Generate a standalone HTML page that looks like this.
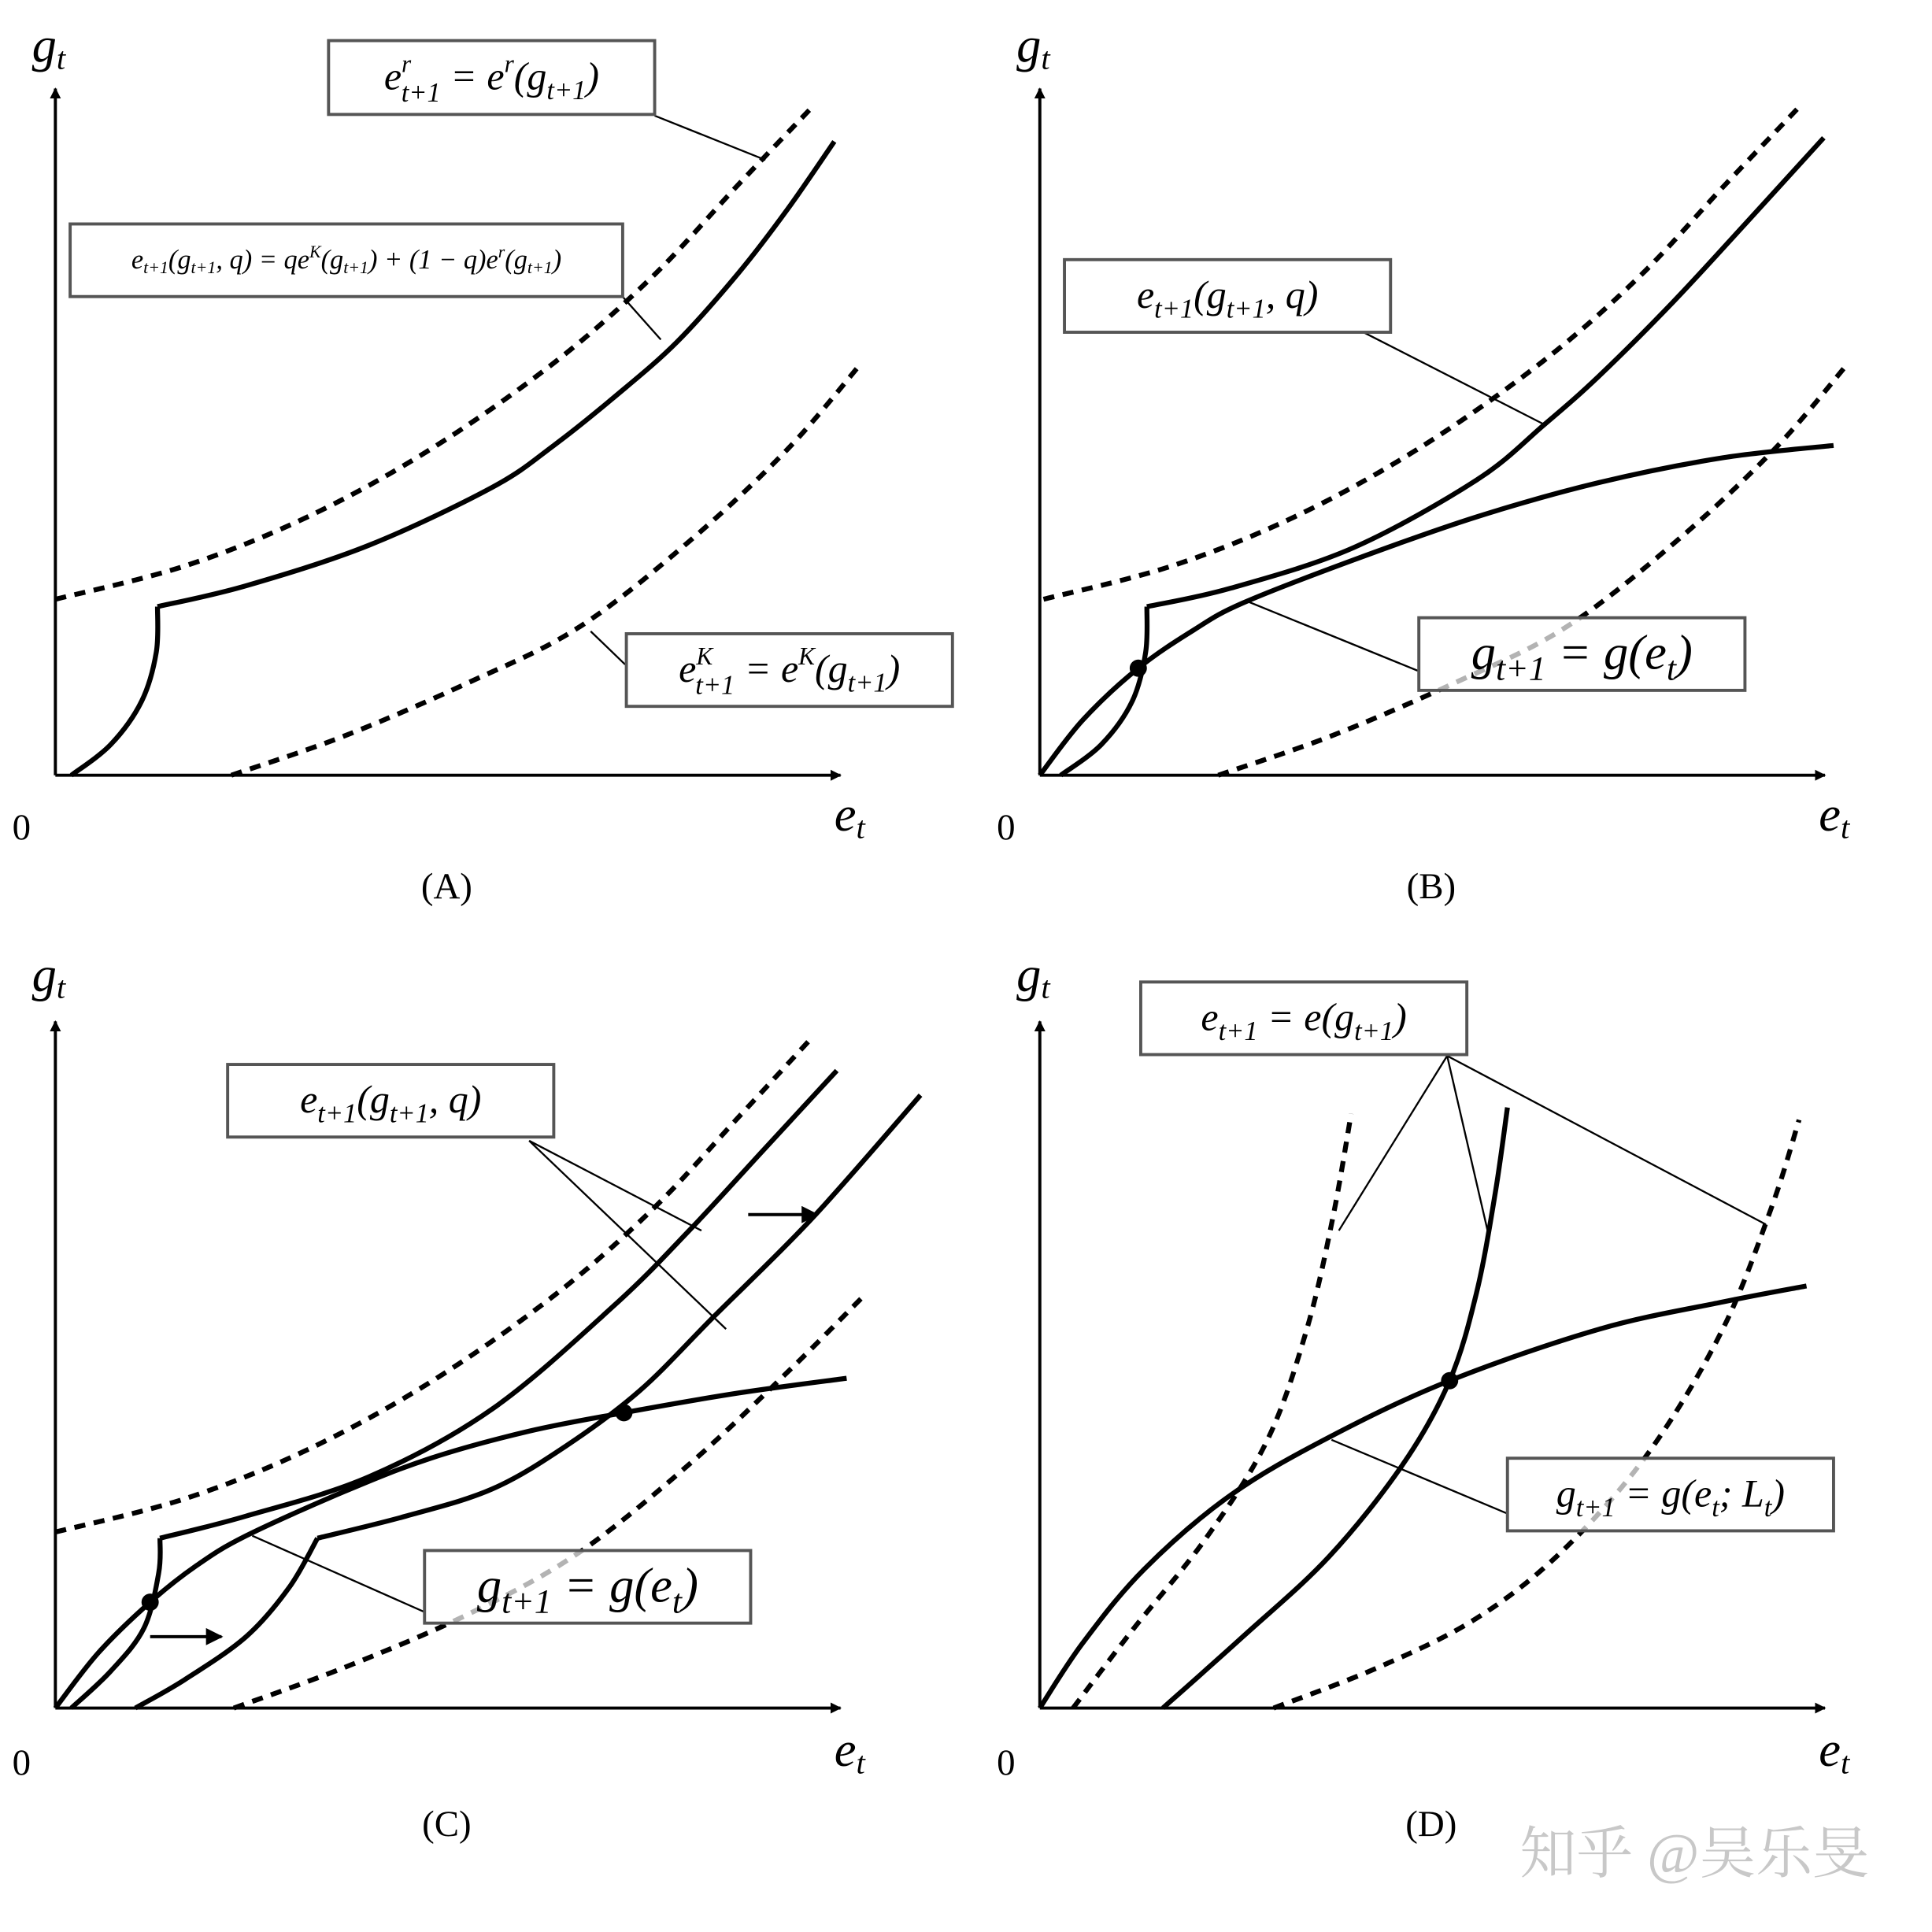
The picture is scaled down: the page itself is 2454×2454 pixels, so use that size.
<!DOCTYPE html>
<html><head><meta charset="utf-8"><style>
html,body{margin:0;padding:0;background:#fff;}
svg{display:block;}
text{font-family:"Liberation Serif","Noto Serif CJK SC",serif;}
.m{font-style:italic;}
</style></head><body>
<svg id="fig" width="2454" height="2454" viewBox="0 0 1570 1570" xmlns="http://www.w3.org/2000/svg">
<defs>
<marker id="ah" viewBox="0 0 10 10" refX="9" refY="5" markerWidth="9" markerHeight="9" markerUnits="userSpaceOnUse" orient="auto"><path d="M0,0 L10,5 L0,10 z" fill="#000"/></marker>
<marker id="ah2" viewBox="0 0 10 10" refX="9" refY="5" markerWidth="14" markerHeight="14" markerUnits="userSpaceOnUse" orient="auto"><path d="M0,0 L10,5 L0,10 z" fill="#000"/></marker>
</defs>
<g id="layer"></g>
<g id="labels">
 <text class="m" x="26" y="50" font-size="40">g<tspan font-size="26" dy="6">t</tspan></text>
 <text class="m" x="678" y="675" font-size="40">e<tspan font-size="26" dy="6">t</tspan></text>
 <text x="10" y="682" font-size="30">0</text>
 <text x="363" y="730" font-size="30" text-anchor="middle">(A)</text>
 <text class="m" x="826" y="50" font-size="40">g<tspan font-size="26" dy="6">t</tspan></text>
 <text class="m" x="1478" y="675" font-size="40">e<tspan font-size="26" dy="6">t</tspan></text>
 <text x="810" y="682" font-size="30">0</text>
 <text x="1163" y="730" font-size="30" text-anchor="middle">(B)</text>
 <text class="m" x="26" y="805" font-size="40">g<tspan font-size="26" dy="6">t</tspan></text>
 <text class="m" x="678" y="1435" font-size="40">e<tspan font-size="26" dy="6">t</tspan></text>
 <text x="10" y="1442" font-size="30">0</text>
 <text x="363" y="1492" font-size="30" text-anchor="middle">(C)</text>
 <text class="m" x="826" y="805" font-size="40">g<tspan font-size="26" dy="6">t</tspan></text>
 <text class="m" x="1478" y="1435" font-size="40">e<tspan font-size="26" dy="6">t</tspan></text>
 <text x="810" y="1442" font-size="30">0</text>
 <text x="1163" y="1492" font-size="30" text-anchor="middle">(D)</text>
 <text x="1235" y="1522" font-size="46" fill="#c8c8c8" font-family="Noto Sans CJK SC, sans-serif">知乎 @吴乐旻</text>
</g>
</svg>
<script>
// ---- data (in axis units: x right of origin, y above origin) ----
const panelOrigins = [[45,630],[845,630],[45,1388],[845,1388]];
// Panel A
const aErUpper = [[0,143],[105,170],[205,210],[305,265],[405,335],[485,405],[555,480],[615,543]];
const aQBranch1 = [[13,0],[45,25],[70,60],[82,100],[83,137]];
const aQBranch2 = [[83,137],[155,154],[255,187],[355,234],[405,268],[455,308],[505,352],[555,408],[595,460],[633,515]];
const aEkLower = [[143,0],[235,32],[335,75],[425,120],[515,190],[595,265],[655,335]];
// Panel B
const bErUpper = [[3,143],[107,170],[207,210],[307,265],[407,335],[487,405],[557,480],[617,543]];
const bQBranch1 = [[17,0],[50,25],[75,60],[86,100],[87,137]];
const bQBranch2 = [[87,137],[155,152],[255,185],[355,240],[410,285],[455,325],[515,385],[575,450],[637,518]];
const bG = [[0,0],[35,45],[80,87],[125,118],[165,140],[255,175],[355,210],[455,238],[555,258],[645,268]];
const bEkLower = [[145,0],[237,32],[337,75],[427,120],[517,190],[597,265],[657,335]];
// Panel C
const cErUpper = [[0,143],[105,170],[205,210],[305,265],[405,335],[485,405],[555,480],[615,545]];
const cQ1Branch1 = [[13,0],[45,30],[72,65],[84,110],[85,138]];
const cQ1Branch2 = [[85,138],[155,156],[255,188],[355,243],[455,328],[515,388],[575,453],[635,518]];
const cQ2Branch1 = [[65,0],[105,23],[155,58],[190,98],[213,138]];
const cQ2Branch2 = [[213,138],[285,156],[355,178],[415,213],[475,258],[535,318],[615,398],[703,498]];
const cG = [[0,0],[35,45],[77,86],[115,116],[155,140],[235,176],[305,203],[385,225],[462,240],[555,256],[643,268]];
const cEkLower = [[145,0],[235,33],[335,76],[425,126],[515,198],[595,273],[655,333]];
const cDots = [[77,86],[462,240]];
// Panel D
const dEr = [[27,0],[75,63],[135,138],[185,218],[217,308],[238,398],[253,483]];
const dMid = [[100,0],[165,58],[235,123],[295,198],[333,266],[355,338],[370,418],[380,488]];
const dG = [[0,0],[35,53],[85,113],[155,173],[235,220],[333,266],[455,308],[555,330],[623,343]];
const dEk = [[190,0],[275,33],[355,73],[425,128],[495,208],[555,308],[595,408],[617,478]];
const dDots = [[333,266]];

const NS = "http://www.w3.org/2000/svg";
const layer = document.getElementById('layer');
function sx(p,x){return panelOrigins[p][0]+x;}
function sy(p,y){return panelOrigins[p][1]-y;}
function pathD(p,pts){
  const P = pts.map(q=>[sx(p,q[0]),sy(p,q[1])]);
  let d = "M"+P[0][0]+","+P[0][1];
  for(let i=0;i<P.length-1;i++){
    const p0=P[i-1]||P[i], p1=P[i], p2=P[i+1], p3=P[i+2]||P[i+1];
    const c1=[p1[0]+(p2[0]-p0[0])/6, p1[1]+(p2[1]-p0[1])/6];
    const c2=[p2[0]-(p3[0]-p1[0])/6, p2[1]-(p3[1]-p1[1])/6];
    d+=" C"+c1[0]+","+c1[1]+" "+c2[0]+","+c2[1]+" "+p2[0]+","+p2[1];
  }
  return d;
}
function curve(p,pts,name,dashed){
  const e=document.createElementNS(NS,'path');
  e.setAttribute('d',pathD(p,pts));
  e.setAttribute('fill','none');
  e.setAttribute('stroke','#000');
  e.setAttribute('stroke-width','4');
  if(dashed) e.setAttribute('stroke-dasharray','9 7');
  
  
  layer.appendChild(e);
}
function line(x1,y1,x2,y2,name,w,marker){
  const e=document.createElementNS(NS,'line');
  e.setAttribute('x1',x1);e.setAttribute('y1',y1);e.setAttribute('x2',x2);e.setAttribute('y2',y2);
  e.setAttribute('stroke','#000');e.setAttribute('stroke-width',w||1.5);
  if(marker) e.setAttribute('marker-end','url(#'+marker+')');
  
  
  layer.appendChild(e);
}
function dot(p,pt,name){
  const e=document.createElementNS(NS,'circle');
  e.setAttribute('cx',sx(p,pt[0]));e.setAttribute('cy',sy(p,pt[1]));e.setAttribute('r',7);
  e.setAttribute('fill','#000');
  
  
  layer.appendChild(e);
}
function box(x,y,w,h,name,html,fs){
  const g=document.createElementNS(NS,'g');
  
  
  const r=document.createElementNS(NS,'rect');
  r.setAttribute('x',x);r.setAttribute('y',y);r.setAttribute('width',w);r.setAttribute('height',h);
  r.setAttribute('fill','rgba(255,255,255,0.7)');r.setAttribute('stroke','#555');r.setAttribute('stroke-width','2.5');
  g.appendChild(r);
  const t=document.createElementNS(NS,'text');
  t.setAttribute('x',x+w/2);t.setAttribute('y',y+h/2+fs*0.3);
  t.setAttribute('text-anchor','middle');t.setAttribute('font-size',fs);t.setAttribute('class','m');
  t.innerHTML=html;
  g.appendChild(t);
  layer.appendChild(g);
}
panelOrigins.forEach((o,i)=>{
  line(o[0],o[1],o[0],72+(i>1?758:0),'y-axis-'+i,2.5,'ah');
  line(o[0],o[1],o[0]+638,o[1],'x-axis-'+i,2.5,'ah');
});
// Panel A
curve(0,aErUpper,'a-er-curve',true);
curve(0,aQBranch1,'a-q-curve-lower',false);
curve(0,aQBranch2,'a-q-curve-upper',false);
curve(0,aEkLower,'a-ek-curve',true);
line(532,94,622,130,'a-er-leader');
line(505,240,537,276,'a-q-leader');
line(480,513,508,540,'a-ek-leader');
// Panel B
curve(1,bErUpper,'b-er-curve',true);
curve(1,bEkLower,'b-ek-curve',true);
curve(1,bQBranch1,'b-q-curve-lower',false);
curve(1,bQBranch2,'b-q-curve-upper',false);
curve(1,bG,'b-g-curve',false);
dot(1,[80,87],'b-equilibrium');
line(1108,270,1255,345,'b-q-leader');
line(1152,545,1012,488,'b-g-leader');
// Panel C
curve(2,cErUpper,'c-er-curve',true);
curve(2,cEkLower,'c-ek-curve',true);
curve(2,cQ1Branch1,'c-q1-lower',false);
curve(2,cQ1Branch2,'c-q1-upper',false);
curve(2,cQ2Branch1,'c-q2-lower',false);
curve(2,cQ2Branch2,'c-q2-upper',false);
curve(2,cG,'c-g-curve',false);
cDots.forEach((d,i)=>dot(2,d,'c-equilibrium-'+i));
line(430,927,570,1000,'c-q-leader-1');
line(430,927,590,1080,'c-q-leader-2');
line(345,1310,205,1248,'c-g-leader');
line(122,1330,180,1330,'c-shift-arrow-low',2.5,'ah2');
line(608,987,664,987,'c-shift-arrow-high',2.5,'ah2');
// Panel D
curve(3,dEr,'d-er-curve',true);
curve(3,dEk,'d-ek-curve',true);
curve(3,dMid,'d-e-curve',false);
curve(3,dG,'d-g-curve',false);
dDots.forEach((d,i)=>dot(3,d,'d-equilibrium-'+i));
line(1176,858,1088,1000,'d-e-leader-1');
line(1176,858,1210,1005,'d-e-leader-2');
line(1176,858,1435,995,'d-e-leader-3');
line(1225,1230,1082,1170,'d-g-leader');
// boxes
box(267,33,265,60,'a-er-label','e<tspan font-size="20" dy="-14">r</tspan><tspan font-size="22" dx="-8" dy="24">t+1</tspan><tspan dy="-10"> = e</tspan><tspan font-size="20" dy="-14">r</tspan><tspan dy="14">(g</tspan><tspan font-size="22" dy="8">t+1</tspan><tspan dy="-8">)</tspan>',32);
box(57,182,449,59,'a-q-label','e<tspan font-size="14" dy="4">t+1</tspan><tspan dy="-4">(g</tspan><tspan font-size="14" dy="4">t+1</tspan><tspan dy="-4">, q) = qe</tspan><tspan font-size="14" dy="-9">K</tspan><tspan dy="9">(g</tspan><tspan font-size="14" dy="4">t+1</tspan><tspan dy="-4">) + (1 − q)e</tspan><tspan font-size="14" dy="-9">r</tspan><tspan dy="9">(g</tspan><tspan font-size="14" dy="4">t+1</tspan><tspan dy="-4">)</tspan>',22);
box(509,515,265,59,'a-ek-label','e<tspan font-size="20" dy="-14">K</tspan><tspan font-size="22" dx="-14" dy="24">t+1</tspan><tspan dy="-10"> = e</tspan><tspan font-size="20" dy="-14">K</tspan><tspan dy="14">(g</tspan><tspan font-size="22" dy="8">t+1</tspan><tspan dy="-8">)</tspan>',32);
box(865,211,265,59,'b-q-label','e<tspan font-size="22" dy="8">t+1</tspan><tspan dy="-8">(g</tspan><tspan font-size="22" dy="8">t+1</tspan><tspan dy="-8">, q)</tspan>',32);
box(1153,502,265,59,'b-g-label','g<tspan font-size="28" dy="9">t+1</tspan><tspan dy="-9"> = g(e</tspan><tspan font-size="28" dy="9">t</tspan><tspan dy="-9">)</tspan>',40);
box(185,865,265,59,'c-q-label','e<tspan font-size="22" dy="8">t+1</tspan><tspan dy="-8">(g</tspan><tspan font-size="22" dy="8">t+1</tspan><tspan dy="-8">, q)</tspan>',32);
box(345,1260,265,59,'c-g-label','g<tspan font-size="28" dy="9">t+1</tspan><tspan dy="-9"> = g(e</tspan><tspan font-size="28" dy="9">t</tspan><tspan dy="-9">)</tspan>',40);
box(927,798,265,59,'d-e-label','e<tspan font-size="22" dy="8">t+1</tspan><tspan dy="-8"> = e(g</tspan><tspan font-size="22" dy="8">t+1</tspan><tspan dy="-8">)</tspan>',32);
box(1225,1185,265,59,'d-g-label','g<tspan font-size="22" dy="8">t+1</tspan><tspan dy="-8"> = g(e</tspan><tspan font-size="22" dy="8">t</tspan><tspan dy="-8">; L</tspan><tspan font-size="22" dy="8">t</tspan><tspan dy="-8">)</tspan>',32);
</script>
</body></html>
